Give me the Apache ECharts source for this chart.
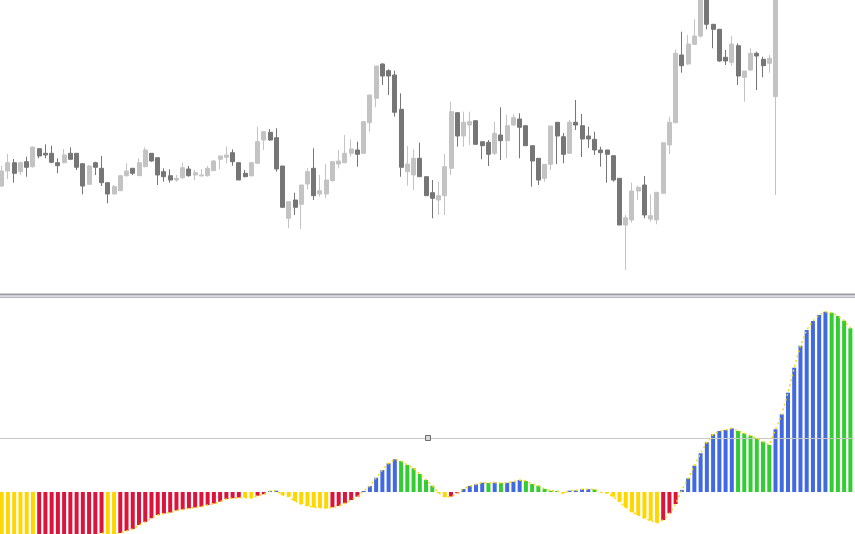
<!DOCTYPE html>
<html>
<head>
<meta charset="utf-8">
<style>
html,body{margin:0;padding:0;background:#fff;}
#chart{width:855px;height:534px;}
</style>
<script src="https://cdn.jsdelivr.net/npm/echarts@6/dist/echarts.min.js"></script>
</head>
<body>
<div id="chart"></div>
<script>
// ---- price candles (arbitrary price units) ----
const candleOpen = [114,129,137.3,128.3,138.3,133.3,151.3,146.7,146.7,137.3,
137.3,146.7,146.7,136.3,115.7,137.3,131.7,117.3,106,109.3,
124.3,131.7,124.3,133.3,146.7,142.3,128.3,124.3,120,122.3,
131,125,124,124.3,129.3,140.7,142.7,147.3,137.3,126.7,
124.3,136.7,160,167.7,162.3,134,81.7,100,95.7,116,
131.7,106,106,119.3,136,137.3,146.7,150,146.7,177.3,
201.7,236,229.3,225,190.7,128.3,125,141.7,123.3,107.3,
100,104.3,131.7,187.3,164,175,179.3,158.3,157.7,146.7,
165,159.3,175,181,174.3,154.3,141.7,121.7,135.7,177.7,
163.3,146.7,177.7,174.3,164,160.7,150,150,144.3,121.7,
75,80,109,115,81,80,106.7,155,177.3,245,
236,255.7,264,306,275.7,270.7,242.7,237.7,254.3,222.7,
230,246.7,240.7,236.7,203.3];
const candleClose = [129,137.3,126.7,137.3,132.7,153,144,145,137.7,134.3,
145,140.7,132.7,114,134,132.7,117.3,106,113.3,124.3,
129,126.7,137.3,150,139,125,123.3,120,121.7,132.3,
124.3,127.3,125,131.7,139,144,145,138.3,120,123.3,
137.3,158.3,168.3,160,131,92.7,98.3,92.7,115,128.3,
104.3,109.3,120,138.3,139,146.7,151,145.7,178.3,205,
234,224,224,187.7,132.7,136,141.7,123.3,104.3,101.7,
104.3,133.3,188.3,164,177.7,178.3,155.7,154.3,145.7,166.7,
159.3,174.3,182.3,172.7,154.3,139,120,135.7,174,164,
145.7,177.7,175,161,161,150,147.3,145.7,120,75,
82.3,109,112.7,85,84.3,107.7,157.3,177.7,246.7,234.3,
256,264,306,275.7,270.7,239,239,256,224,229,
246.7,244,234.3,241.7,310];
const candleLow = [113,121,117.3,125,123.3,132.3,141.7,141.7,136.7,126.7,
136.7,140.7,130,105.7,115,125,114,96.7,105.7,109,
123.3,125,124,132.7,138.3,115,118.3,117.3,118.3,121,
123.3,120,124,123.3,129.3,130.7,136.7,134.3,120,122.7,
123.3,136.7,150,159.3,128.3,92.7,71.7,85,71,110.7,
100,103.3,101.7,118.3,131.7,136.7,143.3,133.3,146.7,168.3,
192.7,215,205,183.3,123.3,114.3,110,123.3,104.3,81.7,
85,85,125,153.3,153.3,155,155,140.7,134,145,
140,141.7,174,141.7,154,113.3,115,118.3,130,136,
136.7,146,170,143,152,145,133.3,117.3,118.3,75,
30,77.3,100,81.7,78.3,75.7,106.7,146,176.7,227.3,
235,255,262.3,270.7,251.7,238.3,235,234.3,215,198.3,
229.3,210,222.7,227.3,105];
const candleHigh = [134,146,141,138.3,143.3,153,152,155.7,154.3,141.7,
151,152.7,146.7,136.3,135,138.3,144,117.3,115,125,
136.7,131.7,141.7,152.7,146.7,142.3,131.7,130.7,125,137.3,
134,130,131,134,140,144.3,153.3,150.7,137.3,130,
137.3,173.3,168.3,171,171.7,134,98.3,107.3,115,132,
151.7,125,136,138.3,150,165,160.7,158.3,178.3,205,
234,236.7,230.7,229.3,206.7,154,150.7,157.3,123.3,120,
118.3,146,198.3,187.3,188.3,188.3,179.3,158.3,160,178.3,
192.7,185,185.7,186.7,174.3,154.3,141.7,135.7,174,177.7,
167,180,200,186,173.3,168.3,153.3,150,144.3,121.7,
85,117.3,114.3,124,105.7,107.7,157.3,183.3,250.7,268.3,
265,280.7,310,312,275.7,270.7,250,264,256.7,229,
251.7,248.3,243.3,245,315];

// ---- oscillator histogram (shifted forward past the last candle) ----
const histPrior = -45; // value of the bar just before the first visible one
const histValues = [-48,-51,-54,-56,-58,-59,-58.5,-57.5,-56,-55,
-53.5,-52,-50,-48,-46,-44,-41,-42.5,-43,-41,
-39,-37,-33,-30,-26.3,-23,-21.5,-20.5,-18.5,-17.5,
-16.3,-15.5,-14.7,-13,-11.5,-9.7,-7,-6.2,-5.5,-5.8,
-6,-3.7,-2.3,1,1.3,-3,-4.7,-9,-12,-14,
-15.3,-15.7,-16.3,-15.3,-14,-11.3,-8,-4.7,1,6,
14.3,22,28.7,32.7,31,27,23.7,18,12,6.3,
-1,-5,-4.5,-1.3,3,6,7.7,9.3,9,9.4,
9,9.2,10.3,12,11,8,6.3,3,1.3,1,
-1.3,1.3,1.5,2.7,2.8,2.5,-0.3,-1.3,-4.7,-9.7,
-15.3,-20.3,-23,-26.3,-28.7,-30.7,-28,-21.3,-12,2,
13.7,26.3,38.7,49.7,57.7,61,62,63.7,61,58.7,
56.3,53.7,50.3,47,62.7,77.7,99.3,124.3,146.3,162,
171,177,180.3,179.3,176,171.3,163.7];
const levelValue = 54;

const N = histValues.length;
const categories = histValues.map((_, i) => String(i));

const candleData = categories.map((_, i) =>
  i < candleOpen.length ? [candleOpen[i], candleClose[i], candleLow[i], candleHigh[i]] : '-');

const COL = {negFall:'#FFD700', negRise:'#DC143C', posRise:'#4169E1', posFall:'#32CD32'};
const histData = histValues.map((v, i) => {
  const p = i > 0 ? histValues[i - 1] : histPrior;
  let c;
  if (v >= 0) c = v >= p ? COL.posRise : COL.posFall;
  else c = v < p ? COL.negFall : COL.negRise;
  return {value: v, itemStyle: {color: c}};
});

const chart = echarts.init(document.getElementById('chart'), null, {renderer: 'canvas'});
chart.setOption({
  animation: false,
  backgroundColor: '#ffffff',
  grid: [
    {left: -1.4, right: 1.5, top: 0, height: 293, outerBoundsMode: 'none'},
    {left: -1.4, right: 1.5, top: 298, bottom: 0, outerBoundsMode: 'none'}
  ],
  xAxis: [
    {type: 'category', gridIndex: 0, data: categories, boundaryGap: true, show: false},
    {type: 'category', gridIndex: 1, data: categories, boundaryGap: true, show: false}
  ],
  yAxis: [
    {type: 'value', gridIndex: 0, min: 7, max: 300, show: false, splitLine: {show: false}},
    {type: 'value', gridIndex: 1, min: -42, max: 194, show: false, splitLine: {show: false}}
  ],
  series: [
    {
      type: 'candlestick', xAxisIndex: 0, yAxisIndex: 0, data: candleData,
      barWidth: 4.5, clip: true,
      itemStyle: {color: '#C3C3C3', borderColor: '#C3C3C3', color0: '#767676', borderColor0: '#767676', borderWidth: 1}
    },
    {
      type: 'bar', xAxisIndex: 1, yAxisIndex: 1, data: histData, barWidth: 4, clip: true,
      markLine: {
        silent: true, symbol: ['none', 'none'], label: {show: false},
        lineStyle: {color: '#c8c8c8', type: 'solid', width: 1},
        data: [{yAxis: levelValue}]
      }
    },
    {
      type: 'line', xAxisIndex: 1, yAxisIndex: 1, data: histValues, showSymbol: false, clip: true,
      lineStyle: {color: '#FFD700', width: 1.5, type: [2, 3]}, z: 5
    }
  ],
  graphic: [
    {type: 'rect', shape: {x: 0, y: 293.5, width: 855, height: 2}, style: {fill: '#9c9ca6'}, silent: true},
    {type: 'rect', shape: {x: 0, y: 296.5, width: 855, height: 1.5}, style: {fill: '#b6b6be'}, silent: true},
    {type: 'rect', shape: {x: 425.5, y: 435.5, width: 5, height: 5}, style: {fill: '#d8d8d8', stroke: '#6e6e6e', lineWidth: 1}, silent: true, z: 10}
  ]
});
</script>
</body>
</html>
